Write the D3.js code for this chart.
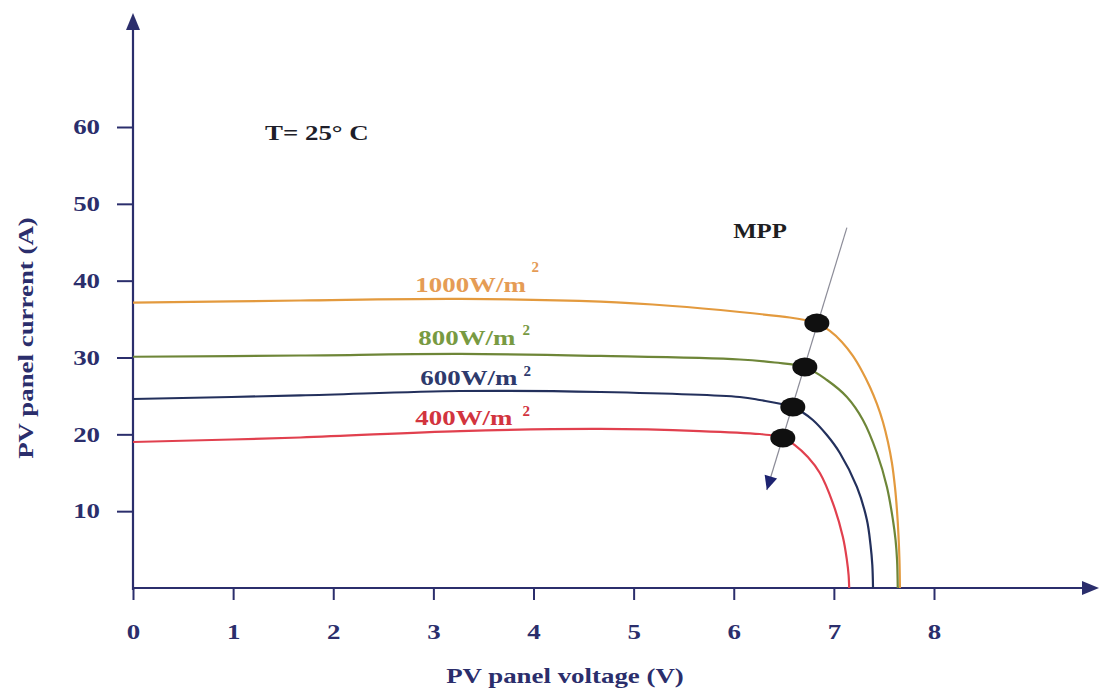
<!DOCTYPE html>
<html>
<head>
<meta charset="utf-8">
<script src="https://cdn.jsdelivr.net/npm/d3@7"></script>
<style>
  html, body { margin: 0; padding: 0; background: #fff; }
  svg { display: block; }
  text { font-family: "Liberation Serif", "Times New Roman", serif; font-weight: bold; }
</style>
</head>
<body>
<svg id="chart" width="1100" height="695"></svg>
<script>
// I-V characteristics of a PV panel at T = 25 °C for four irradiance levels
const irradianceLevels = ["1000", "800", "600", "400"];

// [voltage (V), current (A)] samples along each curve
const curve1000 = [[0,37.13],[1.67,37.42],[3.27,37.62],[4.67,37.26],[5.39,36.70],[6.06,35.92],[6.56,35.21],[6.71,34.88],[6.83,34.49],[6.96,33.45],[7.08,32.02],[7.19,30.20],[7.28,28.24],[7.36,26.16],[7.43,23.95],[7.49,21.61],[7.54,19.00],[7.58,16.27],[7.61,13.15],[7.63,10.15],[7.645,6.90],[7.655,3.64],[7.66,0]];
const curve800  = [[0,30.10],[1.67,30.26],[3.27,30.46],[4.67,30.20],[6.06,29.74],[6.41,29.35],[6.71,28.76],[6.93,27.07],[7.13,24.86],[7.29,21.87],[7.43,17.57],[7.53,13.15],[7.59,8.85],[7.616,6.25],[7.631,3.64],[7.638,0]];
const curve600  = [[0,24.60],[1.67,25.06],[3.27,25.64],[4.67,25.51],[6.06,24.86],[6.26,24.47],[6.59,23.56],[6.69,22.84],[6.79,21.87],[6.93,19.91],[7.06,17.57],[7.23,13.15],[7.33,8.85],[7.366,5.60],[7.384,2.99],[7.391,0]];
const curve400  = [[0,19.00],[1.67,19.59],[3.27,20.43],[4.67,20.70],[5.66,20.43],[6.26,20.04],[6.41,19.78],[6.51,19.39],[6.61,18.61],[6.74,17.05],[6.86,14.97],[6.99,11.06],[7.09,6.64],[7.13,3.64],[7.147,1.69],[7.153,0]];

// Maximum power points [V, A]
const mppPoints = [[6.83,34.49],[6.71,28.76],[6.59,23.56],[6.49,19.52]];
// MPP trend arrow: start and tip [V, A]
const mppArrow = [[7.13,46.9],[6.33,12.75]];

const xTicks = [0,1,2,3,4,5,6,7,8];
const yTicks = [10,20,30,40,50,60];

// label anchors are given in axis units (V, A)
const series = [
  { level: irradianceLevels[0], data: curve1000, color: "#e39a3e", labelColor: "#e59c55", lx: 2.82, ly: 38.5, sx: 3.98, sy: 41.1 },
  { level: irradianceLevels[1], data: curve800,  color: "#6e8638", labelColor: "#789a42", lx: 2.85, ly: 31.6, sx: 3.89, sy: 32.9 },
  { level: irradianceLevels[2], data: curve600,  color: "#23305c", labelColor: "#2e3a6c", lx: 2.87, ly: 26.4, sx: 3.90, sy: 27.6 },
  { level: irradianceLevels[3], data: curve400,  color: "#e1404e", labelColor: "#d2343e", lx: 2.82, ly: 21.2, sx: 3.89, sy: 22.4 }
];

const svg = d3.select("#chart");
const navy = "#2b2e6c";
const FS = 21;          // base font size
const STRETCH = 1.28;   // horizontal widening of the serif type

const x = d3.scaleLinear().domain([0, 8]).range([133, 934]);
const y = d3.scaleLinear().domain([0, 60]).range([588, 127]);

function widen(sel, factor) {
  sel.each(function () {
    const w = this.getComputedTextLength();
    d3.select(this).attr("textLength", w * (factor || STRETCH)).attr("lengthAdjust", "spacingAndGlyphs");
  });
}

// Axes
const gx = svg.append("g").attr("transform", `translate(0,${y(0)})`)
  .call(d3.axisBottom(x).tickValues(xTicks).tickSize(12).tickPadding(24).tickFormat(d3.format("d")));
const gy = svg.append("g").attr("transform", `translate(${x(0)},0)`)
  .call(d3.axisLeft(y).tickValues(yTicks).tickSize(16).tickPadding(17).tickFormat(d3.format("d")));

[gx, gy].forEach(g => {
  g.select(".domain").remove();
  g.selectAll(".tick line").attr("stroke", navy).attr("stroke-width", 2);
  g.selectAll(".tick text").attr("fill", navy).style("font-size", FS + "px").style("font-family", "Liberation Serif, serif").style("font-weight", "bold");
});
gx.selectAll(".tick text").call(widen);
gy.selectAll(".tick text").call(widen);

// Axis lines with arrowheads
svg.append("line").attr("x1", x(0)).attr("y1", y(0) + 2).attr("x2", x(0)).attr("y2", 26)
  .attr("stroke", navy).attr("stroke-width", 2.2);
svg.append("path").attr("d", `M${x(0)},13 L${x(0) - 7},30 L${x(0) + 7},30 Z`).attr("fill", navy);
svg.append("line").attr("x1", x(0) - 1).attr("y1", y(0)).attr("x2", 1086).attr("y2", y(0))
  .attr("stroke", navy).attr("stroke-width", 2.2);
svg.append("path").attr("d", `M1099,${y(0)} L1082,${y(0) - 7} L1082,${y(0) + 7} Z`).attr("fill", navy);

// Axis titles
svg.append("text").attr("x", 565).attr("y", 683).attr("text-anchor", "middle")
  .attr("fill", navy).style("font-size", FS + "px").text("PV panel voltage (V)").call(widen);
svg.append("text").attr("transform", "translate(33,338) rotate(-90)").attr("text-anchor", "middle")
  .attr("fill", navy).style("font-size", FS + "px").text("PV panel current (A)").call(widen);

// Temperature note
svg.append("text").attr("x", 265).attr("y", 140).attr("fill", "#1e1e2a")
  .style("font-size", FS + "px").text("T= 25° C").call(widen);

// I-V curves
const line = d3.line().x(d => x(d[0])).y(d => y(d[1])).curve(d3.curveCatmullRom.alpha(0.5));
svg.append("g").selectAll("path").data(series).join("path")
  .attr("d", d => line(d.data))
  .attr("fill", "none")
  .attr("stroke", d => d.color)
  .attr("stroke-width", 2.2);

// Irradiance labels
series.forEach(s => {
  svg.append("text").attr("x", x(s.lx)).attr("y", y(s.ly)).attr("fill", s.labelColor)
    .style("font-size", FS + "px").text(s.level + "W/m").call(widen);
  svg.append("text").attr("x", x(s.sx)).attr("y", y(s.sy)).attr("fill", s.labelColor)
    .style("font-size", "15px").text("2");
});

// MPP trend line and arrowhead
const [a0, a1] = mppArrow.map(p => [x(p[0]), y(p[1])]);
svg.append("line").attr("x1", a0[0]).attr("y1", a0[1]).attr("x2", a1[0]).attr("y2", a1[1])
  .attr("stroke", "#8c8c98").attr("stroke-width", 1.2);
const ang = Math.atan2(a1[1] - a0[1], a1[0] - a0[0]) * 180 / Math.PI;
svg.append("path").attr("d", "M0,0 L-14,-6.5 L-14,6.5 Z")
  .attr("transform", `translate(${a1[0]},${a1[1]}) rotate(${ang})`)
  .attr("fill", "#1d2370");

// MPP markers
svg.append("g").selectAll("ellipse").data(mppPoints).join("ellipse")
  .attr("cx", d => x(d[0])).attr("cy", d => y(d[1]))
  .attr("rx", 12.5).attr("ry", 9.5).attr("fill", "#101010");

svg.append("text").attr("x", 760).attr("y", 238).attr("text-anchor", "middle").attr("fill", "#1e1e22")
  .style("font-size", FS + "px").text("MPP").call(widen, 1.18);
</script>
</body>
</html>
